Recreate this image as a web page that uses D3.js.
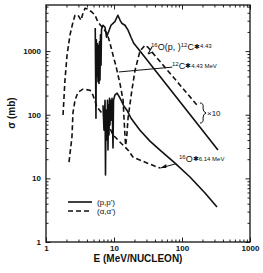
<!DOCTYPE html>
<html>
<head>
<meta charset="utf-8">
<script src="https://cdn.jsdelivr.net/npm/d3@7"></script>
<style>
  body { margin: 0; background: #fff; }
  text { font-family: "Liberation Sans", Arial, sans-serif; fill: #111; }
</style>
</head>
<body>
<div id="chart"></div>
<script>
(function() {

  // values: [E (MeV/nucleon), sigma (mb)]
  // (p,p') 12C* 4.43 MeV, x10
  let ppCarbon = [
    [5.3, 2300], [5.43, 88], [5.5, 1500], [5.62, 400], [5.72, 1300], [5.82, 330],
    [5.92, 1200], [6.02, 310], [6.12, 1400], [6.22, 350], [6.33, 1800], [6.44, 600],
    [6.55, 2200], [6.89, 2550], [7.38, 2370], [7.76, 1650], [8.3, 2000], [9.03, 2550],
    [10.3, 2900], [11.4, 3660], [12.3, 3050], [13.0, 2740], [14.5, 2550], [16.1, 2130],
    [17.8, 1650], [19.5, 1330], [21.8, 1150], [24.1, 1000], [338, 28]
  ];

  // (a,a') 12C* 4.43 MeV, x10
  let aaCarbon = [
    [1.78, 99], [1.90, 349], [2.04, 863], [2.25, 1780], [2.49, 2840], [2.67, 3660],
    [2.96, 3660], [3.27, 3050], [3.50, 3940], [3.75, 4710], [4.15, 4550], [4.75, 4080],
    [5.26, 3660], [5.82, 2840], [6.89, 2290], [7.89, 1910], [8.73, 1330], [9.67, 863],
    [10.7, 580], [12.3, 300], [13.6, 169], [14.2, 70], [14.8, 33], [15.4, 45],
    [16.1, 89], [18.4, 250], [20.4, 500], [24.1, 1000], [28.6, 1240], [31.5, 1150],
    [166, 142]
  ];

  // (p,p') 16O* 6.14 MeV
  let ppOxygen = [
    [6.89, 141], [7.13, 57], [7.38, 169], [7.50, 11.3], [7.63, 118], [7.89, 40],
    [8.02, 169], [8.16, 28], [8.30, 141], [8.44, 48], [8.58, 182], [8.73, 69],
    [8.88, 169], [9.03, 82], [9.35, 182], [9.67, 30], [9.84, 169], [10.3, 203],
    [11.1, 218], [11.8, 196], [12.7, 169], [14.0, 136], [15.5, 118], [17.8, 88],
    [24.1, 57], [33.8, 38.5], [47.5, 27.8], [78.9, 17.4], [131, 10.5], [218, 5.9],
    [327, 3.54]
  ];

  // (a,a') 16O* 6.14 MeV
  let aaOxygen = [
    [2.18, 18], [2.41, 45], [2.49, 106], [2.67, 169], [2.96, 226], [3.50, 252],
    [4.44, 243], [4.91, 203], [5.62, 132], [6.66, 106], [7.5, 90], [8.5, 65],
    [9.67, 48], [11.0, 42], [12.3, 37], [16.1, 27.8], [19.0, 21.6], [30.6, 17.4],
    [47.5, 14.5]
  ];

  let xTickLabels = [1, 10, 100, 1000];
  let yTickLabels = [1, 10, 100, 1000];
  let legendNames = ["(p,p')", "(α,α')"];

  let width  = 263,
      height = 273;
  let margin = {top: 5, right: 13, bottom: 31, left: 46};

  let svg = d3.select('#chart')
    .append("svg")
    .attr  ("width", width)
    .attr  ("height", height);

  let x = d3.scaleLog()
    .domain([1, 1000])
    .range ([margin.left, width - margin.right]);

  let y = d3.scaleLog()
    .domain([1, 5300])
    .range ([height - margin.bottom, margin.top]);

  let xMinor = x.ticks().filter(d => xTickLabels.indexOf(d) < 0);
  let yMinor = y.ticks().filter(d => yTickLabels.indexOf(d) < 0);

  let x0 = margin.left, x1 = width - margin.right;
  let y0 = height - margin.bottom, y1 = margin.top;

  // axes, ticks pointing inward on all four sides
  function axis(gen, tr, vals, size, labels) {
    let g = svg.append("g")
      .attr("transform", tr)
      .call(gen.tickValues(vals).tickSize(-size)
        .tickPadding(labels ? 3 : 0)
        .tickFormat(labels ? (d => d) : ""));
    g.select(".domain").remove();
    g.selectAll("line").attr("stroke", "#222").attr("stroke-width", 1);
    g.selectAll("text")
      .attr("font-family", "Liberation Sans, Arial, sans-serif")
      .attr("font-size", 8)
      .attr("font-weight", "bold");
    return g;
  }

  axis(d3.axisBottom(x), `translate(0,${y0})`, xTickLabels, 4.5, true);
  axis(d3.axisBottom(x), `translate(0,${y0})`, xMinor, 2.5, false);
  axis(d3.axisTop(x), `translate(0,${y1})`, xTickLabels, 4.5, false);
  axis(d3.axisTop(x), `translate(0,${y1})`, xMinor, 2.5, false);
  axis(d3.axisLeft(y), `translate(${x0},0)`, yTickLabels, 4.5, true)
    .selectAll("text").attr("x", -5);
  axis(d3.axisLeft(y), `translate(${x0},0)`, yMinor, 2.5, false);
  axis(d3.axisRight(y), `translate(${x1},0)`, yTickLabels, 4.5, false);
  axis(d3.axisRight(y), `translate(${x1},0)`, yMinor, 2.5, false);

  svg.append("rect")
    .attr("x", x0).attr("y", y1)
    .attr("width", x1 - x0).attr("height", y0 - y1)
    .attr("fill", "none")
    .attr("stroke", "#111")
    .attr("stroke-width", 1.3);

  // curves
  let line = d3.line()
    .x(d => x(d[0]))
    .y(d => y(d[1]));

  let series = [
    {data: ppCarbon, dash: null},
    {data: aaCarbon, dash: "5,3"},
    {data: ppOxygen, dash: null},
    {data: aaOxygen, dash: "5,3"}
  ];

  svg.selectAll(".curve")
    .data (series)
    .enter().append("path")
    .attr ("class", "curve")
    .attr ("d", d => line(d.data))
    .attr ("fill", "none")
    .attr ("stroke", "#111")
    .attr ("stroke-width", 1.6)
    .attr ("stroke-linejoin", "round")
    .attr ("stroke-dasharray", d => d.dash);

  // legend
  let legend = svg.append("g");
  legendNames.forEach((name, i) => {
    let ly = 202 + i * 9;
    legend.append("line")
      .attr("x1", 68).attr("x2", 92)
      .attr("y1", ly).attr("y2", ly)
      .attr("stroke", "#111")
      .attr("stroke-width", 1.6)
      .attr("stroke-dasharray", i ? "5,3" : null);
    legend.append("text")
      .attr("x", 97).attr("y", ly + 3)
      .attr("font-size", 8)
      .text(name);
  });

  // labels with super/subscripts
  function label(px, py, parts) {
    let t = svg.append("text").attr("x", px).attr("y", py);
    parts.forEach(p => {
      t.append("tspan")
        .attr("font-size", p[1])
        .attr("dy", p[2])
        .text(p[0]);
    });
    return t;
  }

  label(151, 50, [["16", 6, -3], ["O(p,", 9, 3], ["  )", 9, 0], ["12", 6, -3],
                  ["C", 9, 3], ["✱", 7, -1], ["4.43", 6, -1]]);
  label(172, 69, [["12", 6, -3], ["C", 9, 3], ["✱", 7, -1], ["4.43 MeV", 6, 0]]);
  label(179, 162, [["16", 6, -3], ["O", 9, 3], ["✱", 7, -1], ["6.14 MeV", 6, 0]]);

  // leaders and arrows
  svg.append("path")
    .attr("d", `M${x(11.8)},${y(470)} L${x(72)},${y(560)}`)
    .attr("stroke", "#111").attr("stroke-width", 1).attr("fill", "none");
  svg.append("path")
    .attr("d", "M152,47 L148,54 M148,54 L153,52")
    .attr("stroke", "#111").attr("stroke-width", 1.1).attr("fill", "none");
  svg.append("path")
    .attr("d", `M${x(48)},${y(14.5)} L${x(82)},${y(17)}`)
    .attr("stroke", "#111").attr("stroke-width", 1).attr("fill", "none");
  svg.append("path")
    .attr("d", `M${x(48)},${y(14.5)} l6,-4 l0,4 z`)
    .attr("fill", "#111");

  // x10 brace
  svg.append("path")
    .attr("d", "M200,103 Q204,103 203,108 Q203,112 206,113 Q203,114 203,118 Q204,123 200,123")
    .attr("stroke", "#111").attr("stroke-width", 1).attr("fill", "none");
  svg.append("text")
    .attr("x", 207).attr("y", 116)
    .attr("font-size", 8)
    .text("×10");

  // axis titles
  svg.append("text")
    .attr("x", 138).attr("y", 262)
    .attr("text-anchor", "middle")
    .attr("font-size", 10)
    .attr("font-weight", "bold")
    .text("E (MeV/NUCLEON)");

  svg.append("text")
    .attr("transform", "translate(15,113) rotate(-90)")
    .attr("text-anchor", "middle")
    .attr("font-size", 10)
    .attr("font-weight", "bold")
    .text("σ (mb)");

})();
</script>
</body>
</html>
